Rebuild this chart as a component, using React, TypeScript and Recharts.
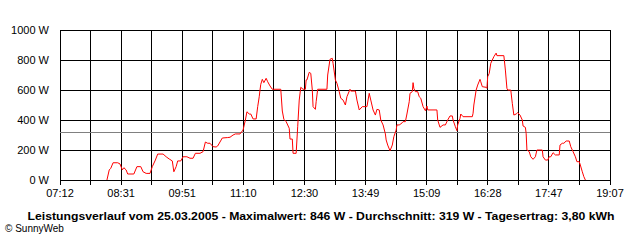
import React from 'react';
import { LineChart, Line, XAxis, YAxis, CartesianGrid, ReferenceLine } from 'recharts';

// sample times, minutes of the day
const times = [
  493, 496, 498, 501, 507, 510, 513, 515, 518, 520,
  528, 532, 537, 540, 544, 549, 552, 556, 559, 566,
  570, 574, 578, 580, 583, 585, 589, 592, 597, 601,
  605, 608, 614, 618, 621, 624, 627, 631, 635, 637,
  643, 650, 653, 657, 660, 666, 670, 673, 675, 678,
  680, 683, 687, 689, 691, 692, 693, 695, 697, 700,
  702, 705, 708, 719, 721, 723, 726, 730, 731, 734,
  735, 739, 741, 743, 745, 748, 751, 752, 753, 756,
  758, 760, 761, 764, 765, 767, 779, 780, 783, 786,
  787, 790, 792, 795, 797, 800, 803, 805, 809, 810,
  816, 818, 821, 825, 831, 834, 836, 839, 842, 844,
  847, 849, 852, 855, 856, 858, 861, 864, 866, 869,
  870, 873, 875, 878, 881, 883, 886, 887, 890, 891,
  892, 894, 897, 899, 901, 904, 907, 909, 910, 922,
  923, 926, 930, 933, 936, 939, 942, 943, 946, 948,
  949, 952, 953, 956, 968, 969, 970, 973, 975, 978,
  979, 981, 986, 987, 988, 990, 992, 994, 996, 999,
  1000, 1009, 1011, 1013, 1014, 1018, 1020, 1022, 1025, 1027,
  1030, 1033, 1034, 1037, 1038, 1039, 1042, 1044, 1047, 1050,
  1052, 1059, 1060, 1063, 1066, 1068, 1070, 1073, 1076, 1081,
  1082, 1085, 1087, 1090, 1094, 1096, 1099, 1102, 1104, 1107,
  1108, 1111, 1113, 1115,
];

// power in W
const watts = [
  0, 67, 78, 115, 115, 107, 67, 82, 67, 40,
  40, 89, 89, 55, 44, 44, 89, 133, 173, 173,
  155, 140, 127, 55, 89, 127, 127, 155, 155, 145,
  145, 178, 178, 189, 253, 245, 245, 222, 220, 227,
  280, 283, 285, 300, 307, 307, 333, 400, 455, 440,
  440, 407, 407, 489, 555, 600, 638, 671, 649, 678,
  655, 627, 605, 605, 460, 405, 389, 345, 273, 273,
  178, 178, 355, 533, 618, 605, 605, 667, 667, 718,
  711, 600, 489, 471, 522, 605, 605, 700, 805, 811,
  778, 667, 645, 589, 545, 533, 500, 555, 605, 593,
  593, 533, 467, 489, 489, 578, 533, 467, 433, 471,
  467, 400, 367, 307, 267, 233, 195, 233, 289, 333,
  367, 367, 373, 389, 389, 440, 522, 578, 589, 649,
  611, 589, 589, 555, 545, 489, 462, 493, 467, 467,
  400, 351, 367, 367, 400, 427, 427, 400, 355, 329,
  367, 411, 440, 422, 422, 445, 500, 600, 633, 671,
  655, 622, 618, 611, 689, 711, 778, 800, 822, 846,
  829, 829, 733, 611, 600, 600, 511, 433, 440, 449,
  433, 400, 360, 351, 311, 200, 189, 155, 138, 155,
  200, 200, 155, 133, 133, 155, 155, 182, 167, 167,
  233, 245, 245, 260, 260, 222, 189, 155, 122, 122,
  107, 55, 22, 0,
];

const xTickLabels = ['07:12', '08:31', '09:51', '11:10', '12:30', '13:49', '15:09', '16:28', '17:47', '19:07'];
const yTicks = [0, 200, 400, 600, 800, 1000];
const average = 319;
const title = 'Leistungsverlauf vom 25.03.2005 - Maximalwert: 846 W - Durchschnitt: 319 W - Tagesertrag: 3,80 kWh';
const credit = '\u00A9 SunnyWeb';

const toMin = (s: string) => parseInt(s.slice(0, 2), 10) * 60 + parseInt(s.slice(3), 10);
const xStart = toMin(xTickLabels[0]);
const xEnd = toMin(xTickLabels[xTickLabels.length - 1]);
const halfSteps = (xTickLabels.length - 1) * 2;
const xTicks = Array.from({ length: halfSteps + 1 }, (_, i) => xStart + (i * (xEnd - xStart)) / halfSteps);

const data = times.map((t, i) => ({ t, w: watts[i] }));

const FONT = '"Liberation Sans", Arial, sans-serif';

const YTick = (props: any) => {
  const { x, y, payload } = props;
  return (
    <text x={x} y={y} dy="0.355em" textAnchor="end" fontSize={11} fontFamily={FONT} fill="#000">
      {`${payload.value} W`}
    </text>
  );
};

export default function App() {
  return (
    <div style={{ position: 'absolute', left: 0, top: 0, width: 640, height: 240, background: '#fff', fontFamily: FONT }}>
      <style>{`.recharts-cartesian-grid line, .recharts-cartesian-axis-tick-line, .recharts-cartesian-axis-line, .recharts-reference-line line { shape-rendering: crispEdges; }`}</style>
      <LineChart width={640} height={240} data={data} margin={{ top: 30, right: 30, bottom: 30, left: 0 }}>
        <CartesianGrid stroke="#000" strokeWidth={1} />
        <XAxis
          dataKey="t"
          type="number"
          domain={[xStart, xEnd]}
          ticks={xTicks}
          interval={0}
          height={30}
          tickSize={5}
          tickMargin={4}
          stroke="#000"
          tickLine={{ stroke: '#000' }}
          tick={{ fill: '#000', fontSize: 11, fontFamily: FONT }}
          tickFormatter={(_v: number, i: number) => (i % 2 === 0 ? xTickLabels[i / 2] : '')}
        />
        <YAxis
          type="number"
          domain={[0, 1000]}
          ticks={yTicks}
          width={60}
          axisLine={false}
          tickLine={false}
          tickSize={6}
          tickMargin={5}
          tick={<YTick />}
        />
        <ReferenceLine y={average} stroke="#808080" strokeWidth={1} />
        <Line type="linear" dataKey="w" stroke="#ff0000" strokeWidth={1} dot={false} isAnimationActive={false} />
      </LineChart>
      <svg width={640} height={240} style={{ position: 'absolute', left: 0, top: 0, pointerEvents: 'none' }}>
        <text x={321} y={220} textAnchor="middle" fontWeight="bold" fontSize={11} fontFamily={FONT} textLength={587} lengthAdjust="spacingAndGlyphs" fill="#000">
          {title}
        </text>
        <text x={5} y={232} fontSize={10} fontFamily={FONT} fill="#000">
          {credit}
        </text>
      </svg>
    </div>
  );
}
